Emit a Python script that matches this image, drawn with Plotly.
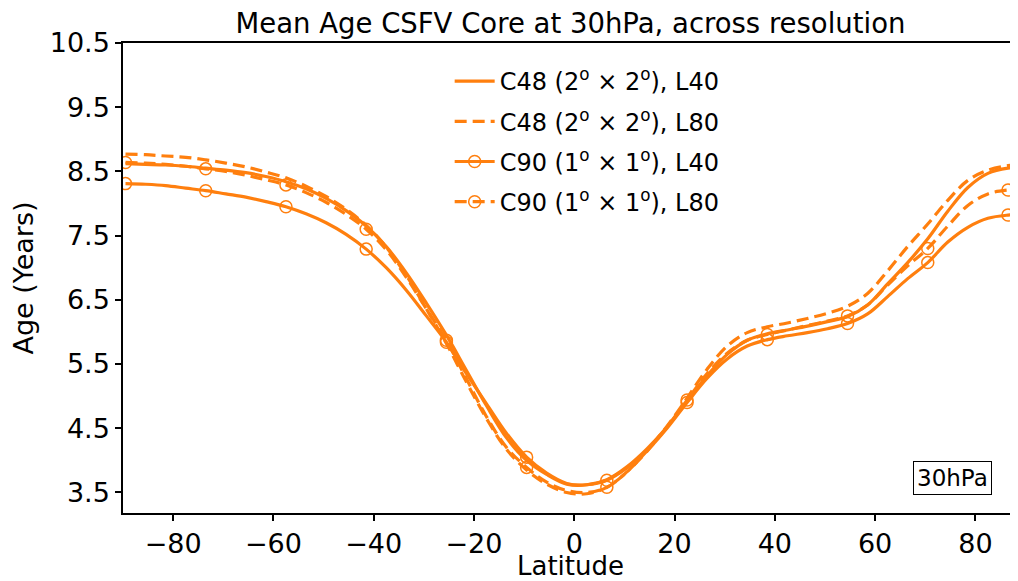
import plotly.graph_objects as go

lat = [-89.5, -85.5, -81.5, -77.5, -73.5, -69.5, -65.5, -61.5, -57.5, -53.5,
       -49.5, -45.5, -41.5, -37.5, -33.5, -29.5, -25.5, -21.5, -17.5, -13.5,
       -9.5, -5.5, -1.5, 2.5, 6.5, 10.5, 14.5, 18.5, 22.5, 26.5,
       30.5, 34.5, 38.5, 42.5, 46.5, 50.5, 54.5, 58.5, 62.5, 66.5,
       70.5, 74.5, 78.5, 82.5, 86.5, 89.5]

c48_l40 = [8.62, 8.61, 8.60, 8.58, 8.55, 8.52, 8.48, 8.42, 8.34, 8.23,
           8.08, 7.89, 7.65, 7.33, 6.92, 6.45, 5.95, 5.40, 4.85, 4.35,
           4.00, 3.78, 3.63, 3.62, 3.70, 3.90, 4.18, 4.52, 4.92, 5.32,
           5.65, 5.87, 5.97, 6.03, 6.09, 6.16, 6.24, 6.42, 6.75, 7.08,
           7.45, 7.88, 8.25, 8.47, 8.55, 8.56]

c48_l80 = [8.77, 8.76, 8.74, 8.72, 8.68, 8.63, 8.57, 8.49, 8.40, 8.27,
           8.11, 7.91, 7.66, 7.32, 6.88, 6.36, 5.82, 5.22, 4.65, 4.17,
           3.85, 3.63, 3.50, 3.48, 3.58, 3.82, 4.15, 4.53, 4.97, 5.42,
           5.78, 5.99, 6.08, 6.14, 6.21, 6.29, 6.40, 6.60, 6.95, 7.33,
           7.68, 8.05, 8.36, 8.52, 8.59, 8.60]

c90_l40 = [8.31, 8.30, 8.28, 8.24, 8.20, 8.15, 8.10, 8.03, 7.95, 7.84,
           7.70, 7.52, 7.29, 7.00, 6.65, 6.25, 5.84, 5.35, 4.88, 4.42,
           4.05, 3.80, 3.64, 3.62, 3.69, 3.88, 4.15, 4.50, 4.90, 5.28,
           5.58, 5.78, 5.88, 5.94, 5.99, 6.05, 6.13, 6.28, 6.55, 6.83,
           7.08, 7.40, 7.63, 7.77, 7.82, 7.83]

c90_l80 = [8.64, 8.63, 8.61, 8.58, 8.54, 8.50, 8.44, 8.37, 8.29, 8.17,
           8.02, 7.83, 7.60, 7.28, 6.85, 6.36, 5.87, 5.27, 4.68, 4.20,
           3.89, 3.66, 3.53, 3.50, 3.58, 3.82, 4.14, 4.52, 4.94, 5.35,
           5.67, 5.87, 5.96, 6.03, 6.10, 6.17, 6.25, 6.42, 6.73, 7.03,
           7.30, 7.65, 7.97, 8.15, 8.21, 8.22]

names = ["C48 (2<sup>o</sup> × 2<sup>o</sup>), L40",
         "C48 (2<sup>o</sup> × 2<sup>o</sup>), L80",
         "C90 (1<sup>o</sup> × 1<sup>o</sup>), L40",
         "C90 (1<sup>o</sup> × 1<sup>o</sup>), L80"]

y_ticks = [3.5, 4.5, 5.5, 6.5, 7.5, 8.5, 9.5, 10.5]
x_ticks = [-80, -60, -40, -20, 0, 20, 40, 60, 80]

ORANGE = "#ff7f0e"
LW = 3.2
DASH = "12px,6px"
MSTEP = 4
FONT = "DejaVu Sans"

series = [
    (c48_l40, names[0], "solid", False),
    (c48_l80, names[1], DASH, False),
    (c90_l40, names[2], "solid", True),
    (c90_l80, names[3], DASH, True),
]

fig = go.Figure()
for i, (vals, nm, dash, mk) in enumerate(series):
    fig.add_trace(go.Scatter(
        x=lat, y=vals, mode="lines", showlegend=False,
        line=dict(color=ORANGE, width=LW, dash=dash, shape="spline", smoothing=1.0),
        hoverinfo="skip"))
    if mk:
        fig.add_trace(go.Scatter(
            x=lat[::MSTEP], y=vals[::MSTEP], mode="markers", showlegend=False,
            marker=dict(symbol="circle-open", size=12, color=ORANGE,
                        line=dict(color=ORANGE, width=1.5)),
            hoverinfo="skip"))
    fig.add_trace(go.Scatter(
        x=[None], y=[None], mode="lines+markers" if mk else "lines", name=nm,
        legendgroup=f"g{i}",
        line=dict(color=ORANGE, width=LW, dash=dash),
        marker=dict(symbol="circle-open", size=12, color=ORANGE,
                    line=dict(color=ORANGE, width=1.5))))

# page body has an 8px margin: figure coords = screen coords - 8
fig.update_layout(
    width=1010, height=573,
    margin=dict(l=115, r=0, t=35, b=68, autoexpand=False),
    paper_bgcolor="white", plot_bgcolor="white",
    font=dict(family=FONT, color="black", size=24),
    title=dict(text="Mean Age CSFV Core at 30hPa, across resolution",
               x=0.5, xref="paper", xanchor="center",
               y=1 - 15 / 573, yref="container", yanchor="middle",
               font=dict(size=27.5, family=FONT, color="black")),
    legend=dict(x=0.365, y=0.966, xanchor="left", yanchor="top",
                bgcolor="rgba(0,0,0,0)", borderwidth=0,
                font=dict(size=24, family=FONT, color="black"),
                itemwidth=40, traceorder="grouped", tracegroupgap=6),
    xaxis=dict(range=[-90, 88.5], tickvals=x_ticks, ticks="outside", ticklen=6,
               tickwidth=1.5, tickcolor="black", showline=True, linecolor="black",
               linewidth=1.5, mirror=True, showgrid=False, zeroline=False,
               automargin=False,
               tickfont=dict(size=27, family=FONT),
               title=dict(text="Latitude", font=dict(size=26, family=FONT),
                          standoff=4)),
    yaxis=dict(range=[3.18, 10.5], tickvals=y_ticks, ticktext=[f"{v:.1f}" for v in y_ticks],
               ticks="outside", ticklen=6, tickwidth=1.5, tickcolor="black",
               showline=True, linecolor="black", linewidth=1.5, mirror=False,
               showgrid=False, zeroline=False, automargin=False,
               tickfont=dict(size=27, family=FONT),
               title=dict(text="Age (Years)", font=dict(size=27, family=FONT),
                          standoff=14)),
)

fig.add_annotation(text="30hPa", x=0.927, y=0.0755, xref="paper", yref="paper",
                   xanchor="center", yanchor="middle", showarrow=False,
                   font=dict(size=23, family=FONT, color="black"),
                   bordercolor="black", borderwidth=1, borderpad=3, bgcolor="white")

fig.write_html("out.html")
